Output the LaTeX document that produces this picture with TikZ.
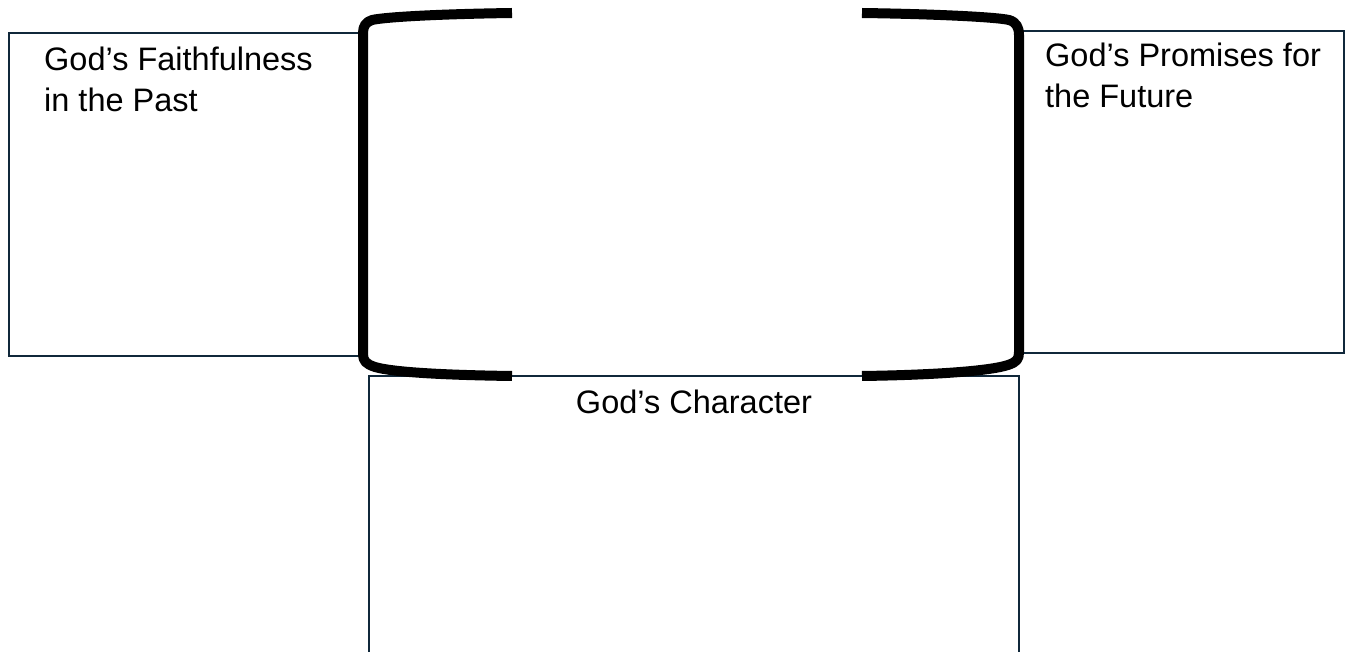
\documentclass[tikz,border=0pt]{standalone}
\usepackage{fontspec}
\setmainfont{Liberation Sans}
\definecolor{boxline}{HTML}{10283A}
\begin{document}
\begin{tikzpicture}[x=1pt,y=-1pt,
  boxstyle/.style={draw=boxline,line width=2pt},
  brk/.style={draw=black,line width=10pt,line cap=butt,line join=round},
  lbl/.style={inner sep=0pt,align=left,font=\fontsize{32.5}{41}\selectfont}]
\useasboundingbox (0,0) rectangle (1345,652);
% boxes
\draw[boxstyle] (9,33) rectangle (362,356);
\draw[boxstyle] (1022,31) rectangle (1344,353);
\draw[boxstyle] (369,652) -- (369,376) -- (1019,376) -- (1019,652);
% brackets
\draw[brk] (512,13) .. controls (440,14) and (385,17) .. (372,20) .. controls (366,22) and (363,26) .. (363,33) -- (363,354) .. controls (363,361) and (366,364) .. (375,367) .. controls (392,372) and (440,375) .. (512,376);
\draw[brk] (862,13) .. controls (934,14) and (996,17) .. (1009,20) .. controls (1016,22) and (1019,27) .. (1019,35) -- (1019,352) .. controls (1019,359) and (1017,362) .. (1008,365) .. controls (990,371) and (934,375) .. (862,376);
% labels
\node[lbl,anchor=north west] (past) at (44,47) {God’s Faithfulness\\in the Past};
\node[lbl,anchor=north west] (future) at (1045,43) {God’s Promises for\\the Future};
\node[lbl,anchor=north] (char) at (694,390) {God’s Character};
\end{tikzpicture}
\end{document}
